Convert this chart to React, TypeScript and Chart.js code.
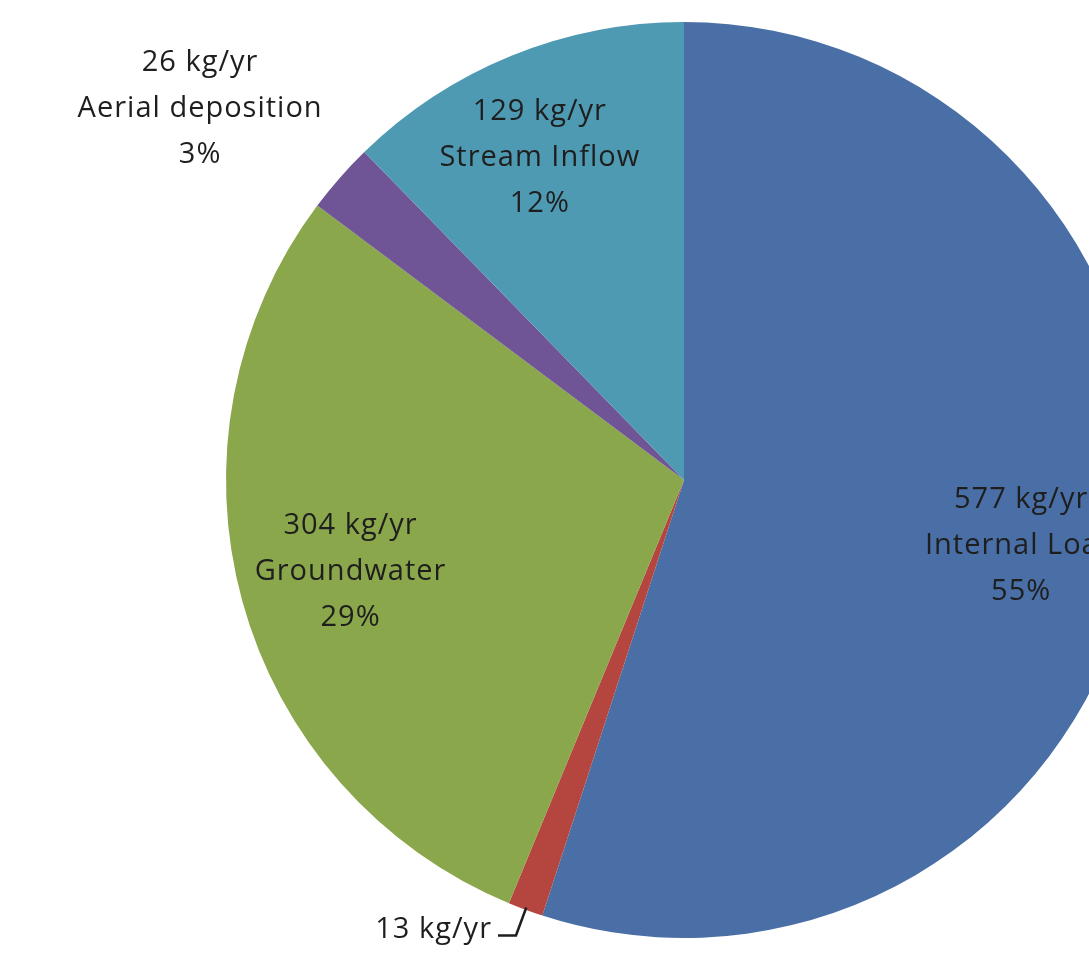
import React, { useEffect, useRef } from "react";
import { Chart, registerables } from "chart.js";

Chart.register(...registerables);

const categories = ["Internal Load", "", "Groundwater", "Aerial deposition", "Stream Inflow"];
const loads = [577, 13, 304, 26, 129];
const valueLabels = ["577 kg/yr", "13 kg/yr", "304 kg/yr", "26 kg/yr", "129 kg/yr"];
const percentLabels = ["55%", "", "29%", "3%", "12%"];
const colors = ["#4A6FA6", "#B5463F", "#8BA74B", "#6F5596", "#4F9AB3"];
const labelRadius = [0.75, 1.06, 0.755, 1.332, 0.77];
const labelAngleShift = [2, 0, 0, -3.75, -2];

const labelPlugin = {
  id: "pieLabels",
  afterDatasetsDraw(chart: any) {
    const ctx = chart.ctx;
    const meta = chart.getDatasetMeta(0);
    ctx.save();
    ctx.fillStyle = "#1e1e1e";
    ctx.font = "29px 'Open Sans', Lato, sans-serif";
    try {
      ctx.letterSpacing = "1px";
    } catch (e) {}
    ctx.textAlign = "center";
    ctx.textBaseline = "middle";
    const lh = 46;
    meta.data.forEach((arc: any, i: number) => {
      const p = arc.getProps(["x", "y", "startAngle", "endAngle", "outerRadius"], true);
      const mid = (p.startAngle + p.endAngle) / 2 + (labelAngleShift[i] * Math.PI) / 180;
      const r = p.outerRadius * labelRadius[i];
      const x = p.x + Math.cos(mid) * r;
      const y = p.y + Math.sin(mid) * r;
      if (categories[i] === "") {
        const m0 = (p.startAngle + p.endAngle) / 2;
        const ex = p.x + Math.cos(m0) * p.outerRadius * 0.995;
        const ey = p.y + Math.sin(m0) * p.outerRadius * 0.995;
        ctx.strokeStyle = "#1e1e1e";
        ctx.lineWidth = 2.5;
        ctx.beginPath();
        ctx.moveTo(ex, ey);
        ctx.lineTo(x, y);
        ctx.lineTo(x - 18, y);
        ctx.stroke();
        ctx.textAlign = "right";
        ctx.fillText(valueLabels[i], x - 24, y - 6);
        ctx.textAlign = "center";
        return;
      }
      const lines = [valueLabels[i], categories[i], percentLabels[i]];
      lines.forEach((t, k) => {
        ctx.fillText(t, x, y + (k - 1) * lh);
      });
    });
    ctx.restore();
  },
};

export default function App() {
  const ref = useRef<HTMLCanvasElement | null>(null);
  useEffect(() => {
    if (!ref.current) return;
    const chart = new Chart(ref.current, {
      type: "pie",
      data: {
        labels: categories,
        datasets: [
          {
            data: loads,
            backgroundColor: colors,
            borderWidth: 0,
          },
        ],
      },
      options: {
        animation: false,
        responsive: false,
        layout: { padding: { top: 22, bottom: 16, left: 226, right: 226 } },
        plugins: {
          legend: { display: false },
          tooltip: { enabled: false },
        },
      },
      plugins: [labelPlugin],
    });
    return () => chart.destroy();
  }, []);
  return (
    <div
      style={{
        position: "fixed",
        left: 0,
        top: 0,
        width: 1089,
        height: 954,
        overflow: "hidden",
        background: "#ffffff",
      }}
    >
      <canvas ref={ref} width={1368} height={954} style={{ width: 1368, height: 954 }} />
    </div>
  );
}
